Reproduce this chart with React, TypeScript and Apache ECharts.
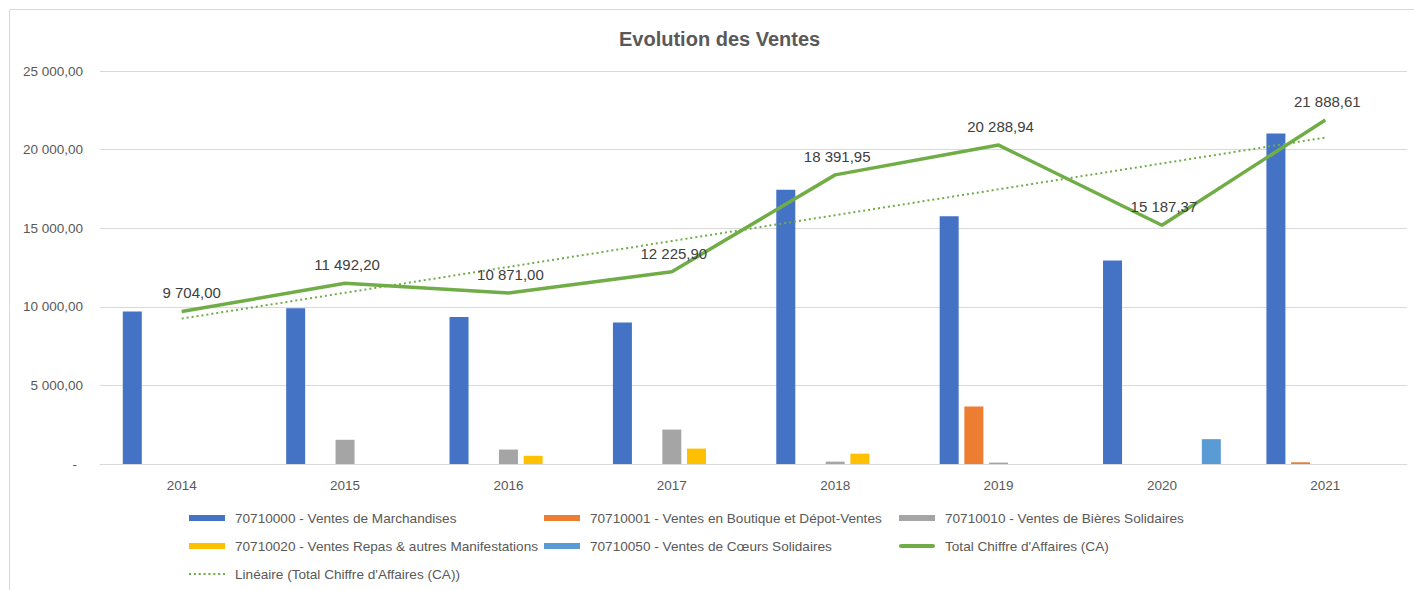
import React, { useEffect, useRef } from "react";
import * as echarts from "echarts";

const categories = ["2014", "2015", "2016", "2017", "2018", "2019", "2020", "2021"];
const marchandises = [9704, 9900, 9350, 9000, 17450, 15760, 12950, 21020];
const boutique = [0, 0, 0, 0, 0, 3660, 0, 110];
const bieres = [0, 1540, 920, 2190, 150, 90, 0, 0];
const repas = [0, 0, 520, 980, 660, 0, 0, 0];
const coeurs = [0, 0, 0, 0, 0, 0, 1580, 0];
const totalCA = [9704.0, 11492.2, 10871.0, 12225.9, 18391.95, 20288.94, 15187.37, 21888.61];
const yTicks = [0, 5000, 10000, 15000, 20000, 25000];

const names = [
  "70710000 - Ventes de Marchandises",
  "70710001 - Ventes en Boutique et Dépot-Ventes",
  "70710010 - Ventes de Bières Solidaires",
  "70710020 - Ventes Repas & autres Manifestations",
  "70710050 - Ventes de Cœurs Solidaires",
  "Total Chiffre d'Affaires (CA)",
  "Linéaire (Total Chiffre d'Affaires (CA))",
];

function fmt(v: number): string {
  const [i, d] = v.toFixed(2).split(".");
  return i.replace(/\B(?=(\d{3})+(?!\d))/g, " ") + "," + d;
}

// least-squares linear trend of the total (as Excel's "Linéaire" trendline)
function linearTrend(ys: number[]): number[] {
  const n = ys.length;
  const mx = (n - 1) / 2;
  const my = ys.reduce((a, b) => a + b, 0) / n;
  let sxy = 0;
  let sxx = 0;
  ys.forEach((y, x) => {
    sxy += (x - mx) * (y - my);
    sxx += (x - mx) * (x - mx);
  });
  const b = sxy / sxx;
  const a = my - b * mx;
  return ys.map((_, x) => a + b * x);
}

const FONT = "Liberation Sans";
const GREY = "#595959";
const GREEN = "#70AD47";
const DOTS =
  "path://M0,0h2v2h-2z M4.7,0h2v2h-2z M9.4,0h2v2h-2z M14.1,0h2v2h-2z M18.8,0h2v2h-2z M23.5,0h2v2h-2z M28.2,0h2v2h-2z M32.9,0h2v2h-2z";
const THICK = "path://M2,0H34A2,2 0 0 1 34,4H2A2,2 0 0 1 2,0Z";

export default function App() {
  const ref = useRef<HTMLDivElement>(null);
  useEffect(() => {
    document.body.style.margin = "0";
    if (!ref.current) return;
    const chart = echarts.init(ref.current, null, { renderer: "svg" });
    const barColors = ["#4472C4", "#ED7D31", "#A5A5A5", "#FFC000", "#5B9BD5"];
    const barData = [marchandises, boutique, bieres, repas, coeurs];
    const legendText = {
      color: GREY,
      fontFamily: FONT,
      fontSize: 13.6,
      lineHeight: 16,
      padding: [0, 0, 0, 5],
    };
    const legendBase = {
      orient: "vertical" as const,
      top: 510,
      height: 80,
      padding: 0,
      itemWidth: 36,
      itemHeight: 6,
      itemGap: 12,
      textStyle: legendText,
      selectedMode: false,
    };
    chart.setOption({
      animation: false,
      backgroundColor: "#ffffff",
      textStyle: { fontFamily: FONT },
      title: {
        text: "Evolution des Ventes",
        left: 614,
        top: 24,
        textStyle: { color: GREY, fontFamily: FONT, fontSize: 20, fontWeight: "bold" },
      },
      graphic: [
        {
          type: "rect",
          shape: { x: 9.5, y: 9.5, width: 1430, height: 620 },
          style: { fill: "none", stroke: "#d9d9d9", lineWidth: 1 },
          silent: true,
          z: -1,
        },
      ],
      legend: [
        {
          ...legendBase,
          left: 189,
          data: [
            { name: names[0], icon: "rect" },
            { name: names[3], icon: "rect" },
            { name: names[6], icon: DOTS },
          ],
        },
        {
          ...legendBase,
          left: 544,
          data: [
            { name: names[1], icon: "rect" },
            { name: names[4], icon: "rect" },
          ],
        },
        {
          ...legendBase,
          left: 899,
          data: [
            { name: names[2], icon: "rect" },
            { name: names[5], icon: THICK },
          ],
        },
      ],
      grid: { left: 100, right: 7, top: 71, bottom: 126, containLabel: false },
      xAxis: {
        type: "category",
        data: categories,
        axisTick: { show: false },
        axisLine: { lineStyle: { color: "#d9d9d9", width: 1 } },
        axisLabel: { color: GREY, fontFamily: FONT, fontSize: 13.5, margin: 14 },
      },
      yAxis: {
        type: "value",
        min: yTicks[0],
        max: yTicks[yTicks.length - 1],
        interval: 5000,
        axisLine: { show: false },
        axisTick: { show: false },
        splitLine: { lineStyle: { color: "#d9d9d9", width: 1 } },
        axisLabel: {
          color: GREY,
          fontFamily: FONT,
          fontSize: 13.5,
          margin: 17,
          formatter: (v: number) => (v === 0 ? "{d|-}" : fmt(v)),
          rich: { d: { color: GREY, fontFamily: FONT, fontSize: 13.5, padding: [0, 6, 0, 0] } },
        },
      },
      series: [
        ...barData.map((d, i) => ({
          name: names[i],
          type: "bar",
          data: d,
          barWidth: 19,
          barGap: "30%",
          itemStyle: { color: barColors[i] },
          z: 2,
        })),
        {
          name: names[5],
          type: "line",
          data: totalCA.map((v, i) => (i === 0 ? { value: v, label: { offset: [10, 0] } } : v)),
          symbol: "circle",
          symbolSize: 0,
          showSymbol: true,
          lineStyle: { color: GREEN, width: 3.5 },
          itemStyle: { color: GREEN },
          z: 4,
          label: {
            show: true,
            position: "top",
            distance: 11,
            offset: [2, 0],
            color: "#404040",
            fontFamily: FONT,
            fontSize: 15,
            formatter: (p: any) => fmt(p.value),
          },
        },
        {
          name: names[6],
          type: "line",
          data: linearTrend(totalCA),
          symbol: "none",
          lineStyle: { color: GREEN, width: 2, type: [2, 3] },
          itemStyle: { color: GREEN },
          z: 3,
        },
      ],
    });
    return () => chart.dispose();
  }, []);
  return <div ref={ref} style={{ width: 1414, height: 590 }} />;
}
